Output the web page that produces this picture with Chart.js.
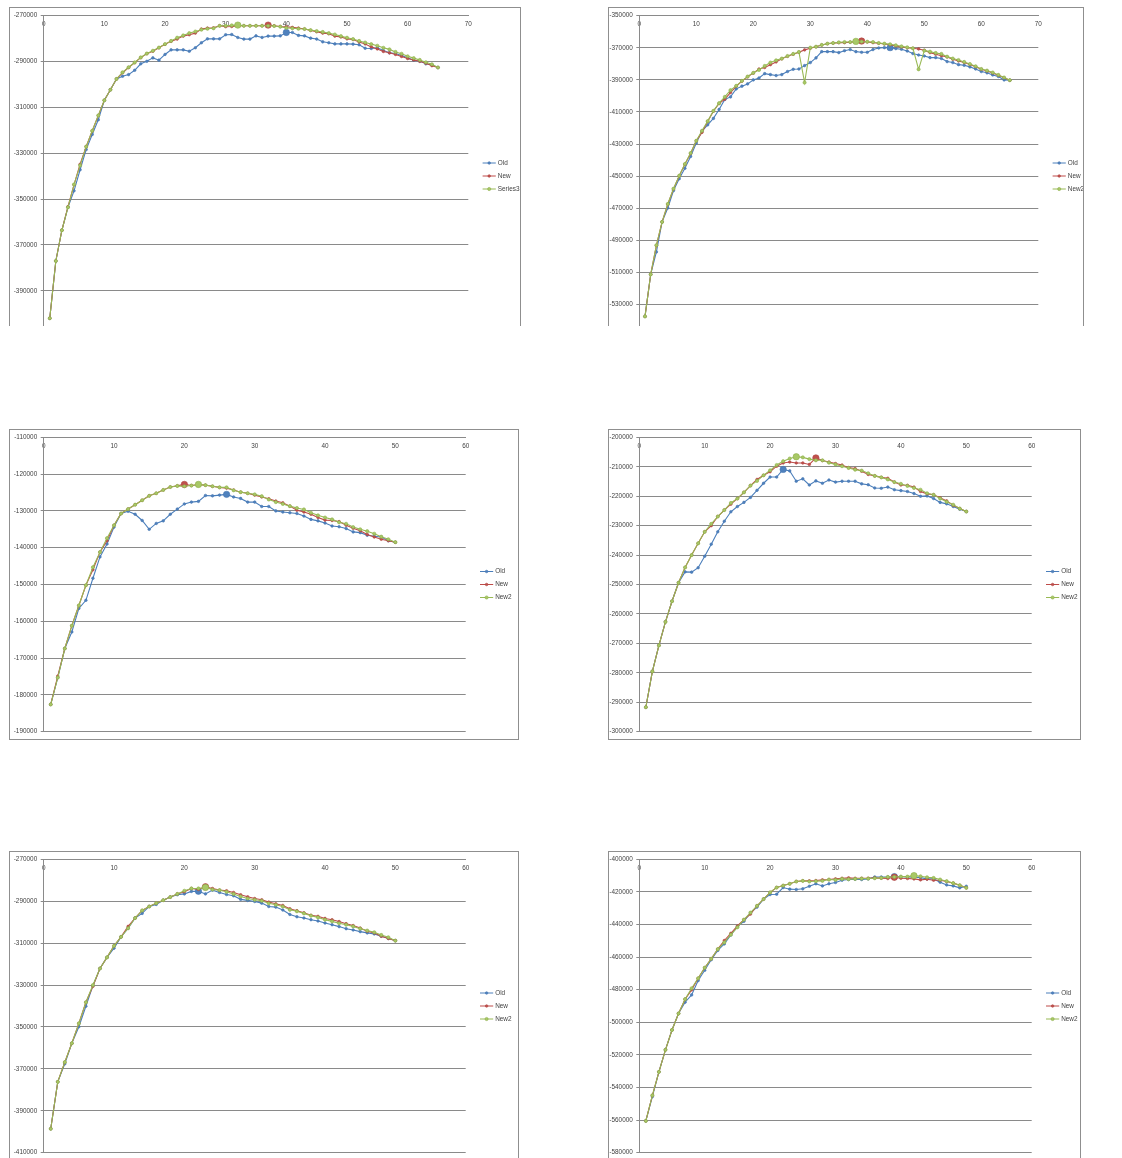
<!DOCTYPE html>
<html>
<head>
<meta charset="utf-8">
<script src="https://cdn.jsdelivr.net/npm/chart.js@4.4.0/dist/chart.umd.min.js"></script>
<style>
  body { margin: 0; background: #fff; width: 1122px; height: 1158px; position: relative; overflow: hidden; }
  .clip { position: absolute; left: 0; top: 0; width: 1122px; overflow: hidden; }
  .frame { position: absolute; border: 1px solid #8f8f8f; background: #fff; }
  canvas { display: block; }
</style>
</head>
<body>
<script>
// Eje x: iteraciones 1..n
const iter65 = Array.from({ length: 65 }, (_, i) => i + 1);
const iter50 = Array.from({ length: 50 }, (_, i) => i + 1);

// Gráfico 1
const old1 = [-402000,-377000,-363600,-353600,-346400,-337200,-328400,-321800,-315400,-306900,
  -302300,-297600,-296400,-295700,-293800,-291000,-289900,-288400,-289400,-286900,
  -284900,-284900,-284900,-285500,-284000,-281800,-280100,-280100,-280100,-278300,
  -278200,-279500,-280200,-280200,-278800,-279500,-278900,-278900,-278800,-277300,
  -277300,-278600,-278800,-279800,-280200,-281400,-281800,-282300,-282300,-282300,
  -282400,-282700,-284200,-284300,-284000,-285200,-286200,-286500,-287400,-288400,
  -289400,-289900,-291000,-291500,-292600];
const new1 = [-402000,-377000,-363600,-353300,-343800,-334800,-327100,-320300,-313600,-306900,
  -302300,-297600,-294900,-292600,-290500,-288300,-286600,-285500,-284000,-282500,
  -281200,-280200,-278900,-278300,-277600,-275800,-275400,-275300,-274400,-274800,
  -274700,-274500,-274400,-274400,-274400,-274400,-274100,-274400,-274700,-274800,
  -275100,-275400,-275800,-276400,-277000,-277600,-277900,-278900,-279300,-280100,
  -280400,-281500,-282300,-283600,-284500,-285600,-286200,-286900,-287800,-288700,
  -289300,-289900,-290700,-291800,-292600];
const series3_1 = [-402000,-377000,-363600,-353600,-343600,-335300,-327100,-320200,-313500,-306900,
  -302300,-297600,-294700,-292500,-290400,-288200,-286500,-285300,-283900,-282400,
  -281000,-279600,-278600,-277600,-276900,-276100,-275700,-275500,-274400,-274400,
  -274200,-274100,-274400,-274400,-274400,-274400,-274400,-274500,-274800,-275300,
  -275500,-275700,-275800,-276300,-276700,-277100,-277600,-278200,-278900,-279600,
  -280200,-281000,-281700,-282400,-283100,-284000,-284700,-285800,-286600,-287700,
  -288500,-289300,-290300,-291200,-292600];

// Gráfico 2
const old2 = [-537400,-511200,-497200,-478500,-469800,-459000,-451600,-445100,-437700,-429400,
  -421900,-418000,-414000,-408400,-402200,-400600,-395600,-393900,-392500,-390000,
  -388800,-386100,-386700,-387300,-386700,-384800,-383400,-383200,-381100,-379200,
  -376300,-372400,-372400,-372400,-373000,-371800,-371100,-372400,-372800,-372800,
  -371100,-370100,-369900,-369900,-370500,-370900,-372000,-373600,-374500,-375100,
  -376100,-376100,-376700,-378600,-379200,-380500,-380900,-381900,-383200,-384800,
  -385600,-386900,-387900,-390000,-390200];
const new2 = [-537400,-511200,-493200,-478500,-467500,-458000,-449900,-442600,-435800,-428000,
  -422700,-415900,-409500,-404700,-402000,-397900,-394000,-390800,-388100,-385800,
  -383200,-382300,-380500,-378800,-376900,-375300,-374000,-372800,-371300,-370300,
  -369400,-368300,-367500,-367100,-366800,-366800,-366500,-366300,-365800,-366400,
  -366800,-367200,-367600,-368100,-368800,-369500,-370000,-370300,-370700,-371500,
  -373000,-374000,-374900,-375700,-377100,-378200,-379200,-380400,-381800,-383400,
  -384500,-385700,-387100,-388700,-390200];
const newB2 = [-537400,-511200,-493000,-478500,-467300,-457800,-449700,-442400,-435600,-427900,
  -421700,-415700,-409300,-404500,-400600,-396400,-393700,-390600,-387900,-385600,
  -383800,-381300,-379200,-377800,-376700,-375100,-373800,-372600,-391700,-369900,
  -369300,-368200,-367400,-367000,-366600,-366400,-366400,-366000,-366200,-366200,
  -366400,-367000,-367400,-367800,-368400,-369100,-369700,-370300,-383400,-371800,
  -372400,-373200,-373800,-375500,-376700,-377600,-378800,-380100,-381500,-383200,
  -384200,-385400,-386900,-388500,-390200];

// Gráfico 3
const old3 = [-182600,-175300,-167400,-162900,-156500,-154300,-148300,-142500,-139000,-134400,
  -130700,-130100,-130900,-132600,-135000,-133400,-132700,-130900,-129500,-128100,
  -127600,-127400,-125800,-125900,-125700,-125500,-126200,-126600,-127600,-127600,
  -128800,-128800,-130000,-130300,-130500,-130700,-131400,-132300,-132700,-133300,
  -134100,-134300,-134800,-135700,-135900,-136600,-136900,-137100,-138100,-138500];
const new3 = [-182600,-174900,-167400,-161200,-155700,-150200,-146000,-141200,-138100,-133900,
  -130700,-129500,-128300,-127100,-125900,-125200,-124300,-123500,-123200,-122800,
  -123100,-122900,-123000,-123300,-123600,-123800,-124300,-124900,-125200,-125700,
  -126200,-126700,-127300,-127800,-128700,-129800,-130300,-130900,-131800,-132500,
  -132600,-132900,-133900,-134700,-135400,-136400,-137100,-137700,-138100,-138500];
const newB3 = [-182600,-175300,-167400,-161200,-155700,-150200,-145300,-141200,-137400,-133900,
  -130700,-129500,-128300,-127100,-125900,-125200,-124300,-123500,-123200,-123300,
  -123100,-122800,-123000,-123300,-123600,-123600,-124400,-124900,-125200,-125500,
  -126000,-126900,-127600,-128100,-128700,-129200,-129600,-130500,-131200,-131800,
  -132300,-133100,-133500,-134400,-135000,-135500,-136200,-137000,-137700,-138500];

// Gráfico 4
const old4 = [-291700,-279500,-270700,-262700,-255700,-249400,-245700,-245800,-244300,-240400,
  -236300,-232100,-228500,-225300,-223500,-222100,-220400,-218000,-215600,-213500,
  -213500,-210900,-211400,-214900,-214100,-216200,-214800,-215600,-214500,-215200,
  -214900,-214900,-214900,-215800,-216100,-217200,-217300,-216900,-217800,-218100,
  -218400,-219100,-220000,-219900,-220800,-222100,-222600,-223500,-224400,-225200];
const new4 = [-291700,-279500,-270700,-262700,-255700,-249400,-244200,-240000,-236000,-232100,
  -230000,-226900,-224700,-222700,-220800,-218700,-216400,-214300,-212900,-211700,
  -209800,-208700,-208400,-208700,-208700,-209200,-207000,-207900,-208400,-208900,
  -209400,-210300,-210600,-211500,-212600,-213100,-213600,-213900,-215200,-216200,
  -216300,-216900,-218400,-219200,-219500,-220500,-221600,-223100,-224200,-225200];
const newB4 = [-291700,-279500,-270700,-262700,-255700,-249400,-244200,-240000,-236000,-232100,
  -229400,-226900,-224700,-222300,-220800,-218700,-216400,-214800,-212900,-211200,
  -209400,-208100,-207200,-206600,-206800,-207400,-207800,-207800,-208600,-209200,
  -209800,-210400,-211000,-211300,-212200,-213100,-213600,-214300,-215200,-215800,
  -216500,-217200,-217800,-219000,-219500,-220800,-221900,-222900,-224200,-225200];

// Gráfico 5
const old5 = [-398600,-376200,-367600,-357800,-349900,-340100,-330300,-322100,-316800,-312400,
  -307000,-302900,-298000,-295800,-292500,-291500,-289500,-288000,-286900,-286500,
  -285300,-285200,-286500,-284700,-285800,-286800,-287400,-289100,-289600,-290100,
  -290900,-292500,-292800,-294200,-296300,-297400,-298000,-298800,-299400,-300400,
  -301200,-302100,-303100,-303700,-304500,-305100,-305600,-306700,-307700,-308800];
const new5 = [-398600,-376200,-366800,-357800,-348300,-338200,-330600,-322100,-316800,-311300,
  -307000,-302000,-298000,-294400,-292500,-290900,-289500,-288000,-286500,-285500,
  -283900,-284400,-283100,-283900,-284700,-285000,-285800,-286900,-287900,-288700,
  -289300,-290400,-291200,-292000,-293600,-294500,-295500,-296700,-297200,-298200,
  -298800,-299700,-300700,-301600,-302800,-304300,-305100,-306700,-307800,-308800];
const newB5 = [-398600,-376200,-366800,-357800,-348300,-338200,-330000,-322100,-316800,-311300,
  -307000,-302900,-298000,-294400,-292500,-290900,-289500,-288000,-286500,-285000,
  -283900,-283900,-283400,-284400,-284700,-285500,-286500,-287700,-288700,-289300,
  -289800,-291000,-291700,-292500,-294100,-294800,-295800,-296900,-297700,-298800,
  -299600,-300500,-301200,-302000,-303100,-304000,-304800,-306100,-307200,-308800];

// Gráfico 6
const old6 = [-560500,-545600,-530400,-516900,-504700,-494600,-487700,-483200,-474400,-468100,
  -461600,-455900,-451900,-446400,-441300,-438000,-432900,-429300,-424400,-421600,
  -421400,-417300,-418300,-418500,-418100,-416500,-415000,-416300,-415000,-414200,
  -412800,-412400,-412200,-412400,-412000,-410800,-410800,-410800,-410600,-410600,
  -410800,-411000,-411200,-412000,-412000,-414000,-415700,-416300,-417500,-416500];
const new6 = [-560500,-544800,-530400,-516900,-504700,-494600,-485800,-480100,-473000,-466500,
  -461000,-455100,-449800,-445400,-440900,-437000,-433600,-428500,-424400,-420300,
  -417300,-416100,-415000,-413600,-413200,-413200,-413000,-412600,-412400,-412000,
  -411600,-411400,-411600,-411600,-411600,-411400,-411600,-411800,-411000,-411600,
  -411800,-412000,-412600,-412200,-412800,-412800,-413600,-414600,-415900,-417500];
const newB6 = [-560500,-544800,-530400,-516900,-504700,-494600,-485800,-479100,-473000,-466500,
  -461000,-455100,-451000,-446200,-441700,-437000,-432700,-428500,-424400,-420300,
  -417300,-416100,-415000,-413600,-413200,-413600,-413400,-413200,-412400,-412600,
  -412000,-412200,-412000,-411800,-411800,-411600,-411400,-410800,-410800,-410600,
  -410600,-410000,-410400,-411000,-411400,-412400,-413400,-414600,-415900,-417500];

// Punto destacado (iteración) de cada serie: [Old, New, New2]
const peaks = [[40, 37, 32], [44, 39, 38], [26, 20, 22], [22, 27, 24], [22, 23, 23], [39, 39, 42]];

// Escalas
const xMaxes = [70, 70, 60, 60, 60, 60];
const yMins = [-410000, -550000, -190000, -300000, -410000, -580000];
const yMaxes = [-270000, -350000, -110000, -200000, -270000, -400000];
const ySteps = [20000, 20000, 10000, 10000, 20000, 20000];

const seriesNames = [["Old", "New", "Series3"], ["Old", "New", "New2"], ["Old", "New", "New2"],
  ["Old", "New", "New2"], ["Old", "New", "New2"], ["Old", "New", "New2"]];
const allSeries = [[old1, new1, series3_1], [old2, new2, newB2], [old3, new3, newB3],
  [old4, new4, newB4], [old5, new5, newB5], [old6, new6, newB6]];
const iters = [iter65, iter65, iter50, iter50, iter50, iter50];

// Posición de cada gráfico en la página: marco [x, y, ancho, alto] y área de trazado [izq, der, arriba, abajo]
const boxes = [
  { frame: [9, 7, 512, 338], plot: [43.7, 468.3, 15.7, 336.6], clip: 326 },
  { frame: [608, 7, 476, 338], plot: [639.3, 1038.3, 15.7, 336.7], clip: 326 },
  { frame: [9, 429, 510, 311], plot: [43.7, 465.7, 437, 731.7] },
  { frame: [608, 429, 473, 311], plot: [639.3, 1031.7, 437, 731.7] },
  { frame: [9, 851, 510, 310], plot: [43.7, 465.7, 858.3, 1153.3] },
  { frame: [608, 851, 473, 310], plot: [639.3, 1031.7, 858.3, 1153.3] },
];

const colores = [
  { line: "#4A7EBB", fill: "#4F81BD", edge: "#4677B2", r: 1.3 },
  { line: "#BE4B48", fill: "#C0504D", edge: "#B04643", r: 1.3 },
  { line: "#98B954", fill: "#A8C866", edge: "#8DAE4A", r: 1.6 },
];
const R_PICO = 3.2;
const FUENTE = { family: "'Liberation Sans', Arial, sans-serif", size: 6.4 };
const TEXTO = "#3f3f3f";
const REJILLA = "#8a8a8a";
const ANCHO_EJE_Y = 30;

// Leyenda lateral estilo Excel (línea con marcador)
const leyendaLateral = {
  id: "leyendaLateral",
  afterDraw(chart) {
    const ctx = chart.ctx;
    const a = chart.chartArea;
    const cy = chart.height / 2;
    chart.data.datasets.forEach((ds, k) => {
      const c = colores[k];
      const y = cy + (k - 1) * 13;
      const x0 = a.right + 14.3;
      const x1 = a.right + 27.5;
      ctx.save();
      ctx.strokeStyle = c.line;
      ctx.lineWidth = 1;
      ctx.beginPath();
      ctx.moveTo(x0, y);
      ctx.lineTo(x1, y);
      ctx.stroke();
      ctx.fillStyle = c.fill;
      ctx.strokeStyle = c.edge;
      ctx.lineWidth = 0.6;
      ctx.beginPath();
      ctx.arc((x0 + x1) / 2, y, c.r, 0, Math.PI * 2);
      ctx.fill();
      ctx.stroke();
      ctx.fillStyle = TEXTO;
      ctx.font = FUENTE.size + "px " + FUENTE.family;
      ctx.textBaseline = "middle";
      ctx.fillText(ds.label, x1 + 2, y);
      ctx.restore();
    });
  },
};

boxes.forEach((b, i) => {
  const [fx, fy, fw, fh] = b.frame;
  const [pl, pr, pt, pb] = b.plot;
  let parent = document.body;
  if (b.clip) {
    const clip = document.createElement("div");
    clip.className = "clip";
    clip.style.height = b.clip + "px";
    document.body.appendChild(clip);
    parent = clip;
  }
  const frame = document.createElement("div");
  frame.className = "frame";
  frame.style.left = fx + "px";
  frame.style.top = fy + "px";
  frame.style.width = fw - 2 + "px";
  frame.style.height = fh - 2 + "px";
  parent.appendChild(frame);
  const canvas = document.createElement("canvas");
  const cw = fw - 2, ch = fh - 2;
  canvas.width = cw;
  canvas.height = ch;
  canvas.style.width = cw + "px";
  canvas.style.height = ch + "px";
  frame.appendChild(canvas);

  const ox = fx + 1, oy = fy + 1;
  const padding = {
    left: pl - ox - ANCHO_EJE_Y,
    right: cw - (pr - ox),
    top: pt - oy,
    bottom: ch - (pb - oy),
  };

  const datasets = allSeries[i].map((vals, k) => {
    const c = colores[k];
    const pico = peaks[i][k];
    return {
      label: seriesNames[i][k],
      data: iters[i].map((x, j) => ({ x: x, y: vals[j] })),
      borderColor: c.line,
      borderWidth: 1.1,
      backgroundColor: c.fill,
      pointBackgroundColor: c.fill,
      pointBorderColor: c.edge,
      pointBorderWidth: 0.6,
      pointRadius: (ctx) => (ctx.raw && ctx.raw.x === pico ? R_PICO : c.r),
      tension: 0,
      order: 2 - k,
    };
  });

  new Chart(canvas, {
    type: "line",
    data: { datasets: datasets },
    plugins: [leyendaLateral],
    options: {
      responsive: false,
      animation: false,
      events: [],
      devicePixelRatio: 1,
      layout: { padding: padding },
      scales: {
        x: {
          type: "linear",
          min: 0,
          max: xMaxes[i],
          position: { y: yMaxes[i] },
          grid: { display: false, drawTicks: false },
          border: { display: true, color: REJILLA, width: 1 },
          ticks: {
            stepSize: 10,
            padding: 5,
            color: TEXTO,
            font: FUENTE,
            maxRotation: 0,
            callback: (v) => String(v),
          },
        },
        y: {
          type: "linear",
          position: "left",
          min: yMins[i],
          max: yMaxes[i],
          afterFit: (s) => { s.width = ANCHO_EJE_Y; },
          grid: { color: REJILLA, lineWidth: 1, drawTicks: true, tickLength: 3 },
          border: { display: true, color: REJILLA, width: 1 },
          ticks: {
            stepSize: ySteps[i],
            padding: 3.5,
            color: TEXTO,
            font: FUENTE,
            callback: (v) => String(v),
          },
        },
      },
      plugins: {
        legend: { display: false },
        tooltip: { enabled: false },
        title: { display: false },
      },
    },
  });
});
</script>
</body>
</html>
